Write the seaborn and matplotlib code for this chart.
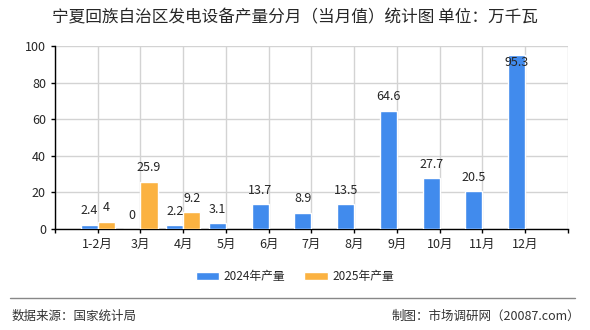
import matplotlib
matplotlib.use("Agg")
import matplotlib.pyplot as plt
import seaborn as sns
import pandas as pd
import numpy as np
from matplotlib.patches import Patch

months = ["1-2月", "3月", "4月", "5月", "6月", "7月", "8月", "9月", "10月", "11月", "12月"]
vals_2024 = [2.4, 0, 2.2, 3.1, 13.7, 8.9, 13.5, 64.6, 27.7, 20.5, 95.3]
vals_2025 = [4, 25.9, 9.2, np.nan, np.nan, np.nan, np.nan, np.nan, np.nan, np.nan, np.nan]
series = ["2024年产量", "2025年产量"]
colors = ["#418BED", "#FBB241"]

df = pd.DataFrame({
    "month": months * 2,
    "series": [series[0]] * len(months) + [series[1]] * len(months),
    "value": vals_2024 + vals_2025,
})

sns.set_style("white")
plt.rcParams["font.family"] = ["Noto Sans CJK SC", "DejaVu Sans"]

fig = plt.figure(figsize=(5.9, 3.3), dpi=100)
ax = fig.add_axes([0.0932, 0.3061, 0.8695, 0.5545])

sns.barplot(data=df, x="month", y="value", hue="series", order=months,
            hue_order=series, palette=colors, errorbar=None, width=0.8,
            legend=False, ax=ax, saturation=1, zorder=3)

ax.set_ylim(0, 100)
ax.set_xlim(-1, 11)
ax.set_yticks([0, 20, 40, 60, 80, 100])
ax.set_xticks(range(-1, 12))
ax.set_xticklabels([""] + months + [""])
ax.tick_params(axis="both", labelsize=9, length=3, width=1, color="black",
               direction="out", left=True, bottom=True)
ax.grid(True, color="#d3d3d3", linewidth=1, zorder=0)
ax.set_axisbelow(True)
ax.set_xlabel("")
ax.set_ylabel("")
for s in ["top", "right"]:
    ax.spines[s].set_visible(False)
for s in ["left", "bottom"]:
    ax.spines[s].set_color("black")
    ax.spines[s].set_linewidth(1)

all_vals = [vals_2024, vals_2025]
for cont, vals in zip(ax.containers, all_vals):
    for patch, v in zip(cont.patches, vals):
        if v is None or (isinstance(v, float) and np.isnan(v)):
            continue
        xc = patch.get_x() + patch.get_width() / 2
        txt = f"{v:g}"
        if v > 88:
            ax.annotate(txt, (xc, v), xytext=(0, -6), textcoords="offset points",
                        ha="center", va="center", fontsize=9, zorder=5)
        else:
            ax.annotate(txt, (xc, v), xytext=(0, 10), textcoords="offset points",
                        ha="center", va="center", fontsize=9, zorder=5)

fig.text(0.5, 0.945, "宁夏回族自治区发电设备产量分月（当月值）统计图 单位：万千瓦",
         ha="center", va="center", fontsize=12)

handles = [Patch(facecolor=c, label=l) for c, l in zip(colors, series)]
fig.legend(handles=handles, loc="center", bbox_to_anchor=(0.5, 0.161), ncol=2,
           frameon=False, fontsize=8.5, handlelength=2.0, handleheight=0.7,
           columnspacing=1.6, handletextpad=0.4)

fig.add_artist(plt.Line2D([0.017, 0.975], [0.097, 0.097], color="#888888",
                          linewidth=1, transform=fig.transFigure))
fig.text(0.02, 0.042, "数据来源：国家统计局", ha="left", va="center",
         fontsize=9, color="#333333")
fig.text(0.983, 0.042, "制图：市场调研网（20087.com）", ha="right", va="center",
         fontsize=9, color="#333333")

fig.savefig("out.png", dpi=100)
